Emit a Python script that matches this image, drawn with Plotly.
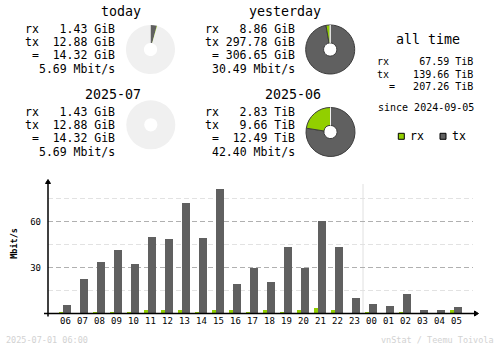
import plotly.graph_objects as go

W, H = 500, 348
MONO = "DejaVu Sans Mono"
NB = "\u00a0"
RX_COLOR = "#92cf00"
TX_COLOR = "#606060"
BG_OFFSET = "#f0f0f0"
EDGE = "#3c3c3c"

# ---- summary periods ----
period_names = ["today", "yesterday", "2025-07", "2025-06"]
period_rx = [1.43, 8.86, 1.43, 2.83]
period_tx = [12.88, 297.78, 12.88, 9.66]
period_total = [14.32, 306.65, 14.32, 12.49]
period_unit = ["GiB", "GiB", "GiB", "TiB"]
period_rate = [5.69, 30.49, 5.69, 42.40]

alltime_rx = 67.59
alltime_tx = 139.66
alltime_total = 207.26
alltime_unit = "TiB"
since_date = "2024-09-05"

# ---- hourly traffic (Mbit/s) ----
hours = ["06", "07", "08", "09", "10", "11", "12", "13", "14", "15", "16", "17",
         "18", "19", "20", "21", "22", "23", "00", "01", "02", "03", "04", "05"]
hour_rx = [1.2, 0.1, 1.2, 1.2, 1.2, 2.0, 2.0, 2.0, 1.2, 2.0, 2.0, 1.2,
           2.0, 1.2, 2.0, 3.8, 2.0, 0.1, 1.0, 0.1, 1.0, 0.1, 0.1, 2.5]
hour_tx = [5.4, 22.4, 33.5, 41.3, 32.2, 49.8, 48.5, 72.0, 49.1, 81.1, 19.1, 29.6,
           20.4, 43.3, 29.6, 60.2, 43.3, 10.0, 6.1, 4.8, 12.6, 2.2, 2.2, 4.1]
y_ticks = [30, 60]
y_minor = [15, 45, 75]
generated = "2025-07-01 06:00"
credit = "vnStat / Teemu Toivola"


def px(x):
    return x / W


def py(y):
    return 1 - y / H


def to_gib(v, unit):
    return v * 1024 if unit == "TiB" else v


def row(label, value, width):
    # fixed-width monospace line: label left, value right
    pad = width - len(label) - len(value)
    return (label + " " * pad + value).replace(" ", NB)


fig = go.Figure()
annotations = []
shapes = []


def text(x, y, s, size=11.5, anchor="left", color="#000000", angle=0):
    annotations.append(dict(
        x=px(x), y=py(y), xref="paper", yref="paper", text=s, showarrow=False,
        xanchor=anchor, yanchor="middle", textangle=angle, borderpad=0,
        font=dict(family=MONO, size=size, color=color)))


# ---- period blocks: text + donut ----
# (title right edge, title y, value right edge, donut cx, donut cy)
blocks = [
    (142, 11, 115.5, 150.5, 49.5),
    (321.5, 11, 295.5, 330.2, 49.5),
    (142, 94, 115.5, 150.8, 124.8),
    (321.5, 94, 295.5, 330.5, 132.0),
]
R = 24.5
for i, (tr, ty, vr, cx, cy) in enumerate(blocks):
    u = period_unit[i]
    text(tr, ty, period_names[i], size=13.3, anchor="right")
    text(vr, ty + 18.0, row("rx", f"{period_rx[i]:.2f} {u}", 13), anchor="right")
    text(vr, ty + 30.8, row("tx", f"{period_tx[i]:.2f} {u}", 13), anchor="right")
    text(vr, ty + 43.7, row(" =", f"{period_total[i]:.2f} {u}", 13), anchor="right")
    text(vr, ty + 58.3, f"{period_rate[i]:.2f} Mbit/s".replace(" ", NB), anchor="right")

# donut arcs in whole degrees; current periods are scaled against the previous one
for i in range(4):
    if i in (0, 2):
        ref = to_gib(period_total[i + 1], period_unit[i + 1])
        rx_arc = int(360 * to_gib(period_rx[i], period_unit[i]) / ref)
        tx_arc = int(360 * to_gib(period_tx[i], period_unit[i]) / ref)
        rest = 360 - rx_arc - tx_arc
        lw = 0
    else:
        rx_arc = int(360 * period_rx[i] / period_total[i])
        tx_arc = 360 - rx_arc
        rest = 0
        lw = 1
    cx, cy = blocks[i][3], blocks[i][4]
    fig.add_trace(go.Pie(
        values=[tx_arc, rx_arc, rest], sort=False, direction="clockwise", rotation=0,
        hole=0.27, textinfo="none", hoverinfo="skip", showlegend=False,
        marker=dict(colors=[TX_COLOR, RX_COLOR, BG_OFFSET],
                    line=dict(color=[EDGE, EDGE, BG_OFFSET], width=lw)),
        domain=dict(x=[px(cx - R), px(cx + R)], y=[py(cy + R), py(cy - R)])))

# ---- all time block ----
text(428, 40, "all time", size=13.3, anchor="center")
text(473.5, 62.0, row("rx", f"{alltime_rx:.2f} {alltime_unit}", 16), size=10, anchor="right")
text(473.5, 74.0, row("tx", f"{alltime_tx:.2f} {alltime_unit}", 16), size=10, anchor="right")
text(473.5, 86.5, row("  =", f"{alltime_total:.2f} {alltime_unit}", 16), size=10, anchor="right")
text(426, 107.7, f"since {since_date}".replace(" ", NB), size=10, anchor="center")

# legend swatches
for x0, col, lab in [(398.3, RX_COLOR, "rx"), (440, TX_COLOR, "tx")]:
    shapes.append(dict(type="rect", xref="paper", yref="paper",
                       x0=px(x0), x1=px(x0 + 6), y0=py(139.3), y1=py(133.3),
                       fillcolor=col, line=dict(color="#000000", width=1)))
    text(x0 + 10.5, 136, lab)

# ---- hourly bars ----
idx = list(range(len(hours)))
fig.add_trace(go.Bar(x=idx, y=hour_rx, width=0.47, offset=-0.41,
                     marker=dict(color=RX_COLOR, line=dict(width=0)),
                     xaxis="x", yaxis="y", showlegend=False, hoverinfo="skip"))
fig.add_trace(go.Bar(x=idx, y=hour_tx, width=0.47, offset=-0.135,
                     marker=dict(color=TX_COLOR, line=dict(width=0)),
                     xaxis="x", yaxis="y", showlegend=False, hoverinfo="skip"))

X0, X1 = 48, 473
Y0, Y1 = 313.5, 180
STEP = 17.0
C0 = 65.5
ppu = 46 / 30.0

# day boundary between 23 and 00
day_split = hours.index("00") - 0.5
shapes.append(dict(type="line", xref="x", yref="paper", x0=day_split, x1=day_split,
                   y0=py(Y0), y1=py(184), line=dict(color="#e0e0e0", width=1),
                   layer="below"))

# axes with arrowheads
shapes.append(dict(type="line", xref="paper", yref="paper", x0=px(48), x1=px(48),
                   y0=py(316.5), y1=py(181), line=dict(color="#000000", width=1.5)))
shapes.append(dict(type="line", xref="paper", yref="paper", x0=px(44), x1=px(476),
                   y0=py(Y0), y1=py(Y0), line=dict(color="#000000", width=1.5)))
shapes.append(dict(type="path", xref="paper", yref="paper",
                   path=f"M {px(45.5)},{py(183.5)} L {px(48)},{py(179.5)} L {px(50.5)},{py(183.5)} Z",
                   fillcolor="#000000", line=dict(color="#000000", width=1)))
shapes.append(dict(type="path", xref="paper", yref="paper",
                   path=f"M {px(474.5)},{py(Y0 - 2.5)} L {px(478.5)},{py(Y0)} L {px(474.5)},{py(Y0 + 2.5)} Z",
                   fillcolor="#000000", line=dict(color="#000000", width=1)))

text(14.5, 243.3, "<b>Mbit/s</b>", size=8.5, anchor="center", angle=-90)

# footer
text(5, 340, generated.replace(" ", NB), size=8.5, color="#d2d2d2")
text(495, 340, credit.replace(" ", NB), size=8.5, anchor="right", color="#d2d2d2")

fig.update_layout(
    width=W, height=H, margin=dict(l=0, r=0, t=0, b=0),
    paper_bgcolor="#ffffff", plot_bgcolor="#ffffff",
    barmode="overlay", bargap=0,
    xaxis=dict(domain=[px(X0), px(X1)],
               range=[(X0 - C0) / STEP, (X1 - C0) / STEP],
               tickvals=idx, ticktext=hours, ticks="", showgrid=False,
               zeroline=False, showline=False, fixedrange=True,
               tickfont=dict(family=MONO, size=9, color="#000000")),
    yaxis=dict(domain=[py(Y0), py(Y1)], range=[0, (Y0 - Y1) / ppu],
               tickvals=y_ticks, ticks="", showline=False, zeroline=False,
               gridcolor="#b0b0b0", griddash="5px,3px", gridwidth=1,
               ticklabelstandoff=6, fixedrange=True,
               tickfont=dict(family=MONO, size=9, color="#000000"),
               minor=dict(tickvals=y_minor, showgrid=True, gridcolor="#e2e2e2",
                          griddash="5px,3px", gridwidth=1)),
    annotations=annotations, shapes=shapes,
)

fig.write_html("out.html")
